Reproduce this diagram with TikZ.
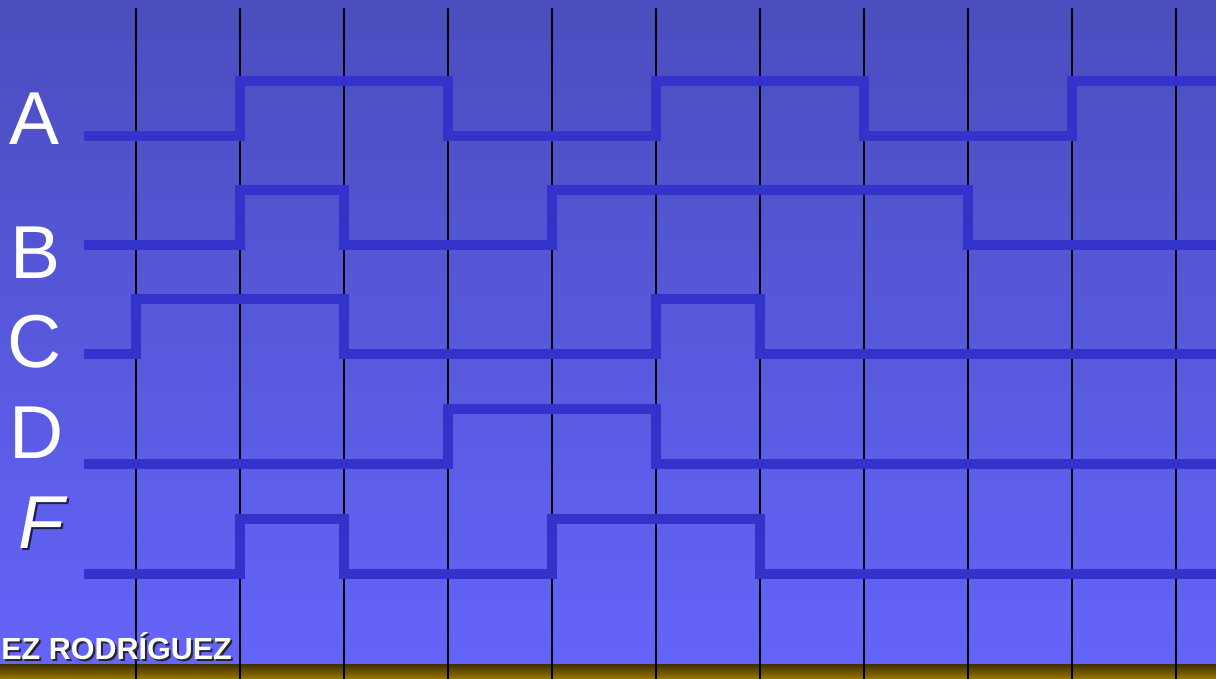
\documentclass[tikz,border=0pt]{standalone}
\usepackage{fontspec}
\setmainfont{Liberation Sans}
\definecolor{bgtop}{RGB}{74,77,189}
\definecolor{bgbot}{RGB}{100,100,250}
\definecolor{wavec}{RGB}{51,51,204}
\definecolor{goldtop}{RGB}{60,46,0}
\definecolor{goldbot}{RGB}{156,120,0}
\tikzset{
  wave/.style={draw=wavec, line width=10pt, line join=miter, line cap=butt},
  gridline/.style={draw=black, line width=2.8pt},
  lbl/.style={text=white, font=\fontsize{75}{75}\selectfont, inner sep=0pt, anchor=base},
  flbl/.style={font=\fontsize{75}{75}\selectfont\itshape, inner sep=0pt, anchor=base},
  foot/.style={font=\fontsize{30.5}{30.5}\selectfont\bfseries, inner sep=0pt, anchor=base east}
}
\begin{document}
\begin{tikzpicture}[x=1pt,y=-1pt]
\useasboundingbox (0,0) rectangle (1216,679);
\shade[top color=bgtop, bottom color=bgbot] (0,0) rectangle (1216,664);
\shade[top color=goldtop, bottom color=goldbot] (0,664) rectangle (1216,679);
% grid
\foreach \x in {136,240,344,448,552,656,760,864,968,1072,1176}
  \draw[gridline] (\x,8) -- (\x,679);
% labels
\node[lbl] (la) at (35,145) {A};
\node[lbl] (lb) at (36,279) {B};
\node[lbl] (lc) at (35,367) {C};
\node[lbl] (ld) at (36.5,458) {D};
\node[flbl, text=black!70!bgbot] (lfs) at (43,550) {F};
\node[flbl, text=white] (lf) at (41,548) {F};
\node[foot, text=black!85] (fts) at (234,661) {EZ RODRÍGUEZ};
\node[foot, text=white] (ft) at (232,659) {EZ RODRÍGUEZ};
% waveforms
\draw[wave] (84,136) -- (240,136) -- (240,81) -- (448,81) -- (448,136) -- (656,136) -- (656,81) -- (864,81) -- (864,136) -- (1072,136) -- (1072,81) -- (1216,81);
\draw[wave] (84,245) -- (240,245) -- (240,190) -- (344,190) -- (344,245) -- (552,245) -- (552,190) -- (968,190) -- (968,245) -- (1216,245);
\draw[wave] (84,354) -- (136,354) -- (136,299) -- (344,299) -- (344,354) -- (656,354) -- (656,299) -- (760,299) -- (760,354) -- (1216,354);
\draw[wave] (84,464) -- (448,464) -- (448,409) -- (656,409) -- (656,464) -- (1216,464);
\draw[wave] (84,574) -- (240,574) -- (240,519) -- (344,519) -- (344,574) -- (552,574) -- (552,519) -- (760,519) -- (760,574) -- (1216,574);
\end{tikzpicture}
\end{document}
